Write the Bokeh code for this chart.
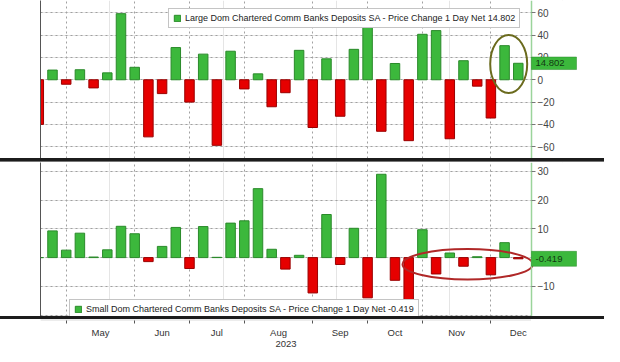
import numpy as np
import pandas as pd
from bokeh.plotting import figure
from bokeh.models import (ColumnDataSource, Range1d, LinearAxis, FixedTicker, Grid,
                          Legend, LegendItem, Label, Div, BoxAnnotation)
from bokeh.layouts import column
from bokeh.core.properties import value
from bokeh.embed import file_html
from bokeh.resources import INLINE

# ---------------- data ----------------
week_dates = ["2023-04-19", "2023-04-26",
              "2023-05-03", "2023-05-10", "2023-05-17", "2023-05-24", "2023-05-31",
              "2023-06-07", "2023-06-14", "2023-06-21", "2023-06-28",
              "2023-07-05", "2023-07-12", "2023-07-19", "2023-07-26",
              "2023-08-02", "2023-08-09", "2023-08-16", "2023-08-23", "2023-08-30",
              "2023-09-06", "2023-09-13", "2023-09-20", "2023-09-27",
              "2023-10-04", "2023-10-11", "2023-10-18", "2023-10-25",
              "2023-11-01", "2023-11-08", "2023-11-15", "2023-11-22", "2023-11-29",
              "2023-12-06", "2023-12-13", "2023-12-20"]

large_change = [-40, 8.7, -4, 9, -7.3, 6.2, 59.3,
                11.2, -51.2, -12.4, 28.9,
                -20, 23, -58.8, 25.6,
                -8.2, 5.3, -24.2, -11.6, 26.4,
                -42.8, 18.8, -32.7, 27.3,
                47.5, -46.2, 14.6, -54.6,
                40.8, 44.1, -52.9, 17.1, -5.7,
                -34.3, 30.6, 14.802]

small_change = [0, 9.3, 2.6, 8.5, 0.2, 2.7, 10.9,
                8.3, -1.4, 3.9, 10.5,
                -3.8, 10.8, 0.1, 12.0,
                12.8, 24.0, 2.9, -4.0, 0.8,
                -12.3, 15.0, -2.4, 10.2,
                -14.0, 29.0, -7.9, -16.2,
                9.7, -5.7, 1.6, -3.0, 0.3,
                -6.0, 5.2, -0.419]

large_last_label = "14.802"
small_last_label = "-0.419"
large_name = "Large Dom Chartered Comm Banks Deposits SA - Price Change 1 Day Net 14.802"
small_name = "Small Dom Chartered Comm Banks Deposits SA - Price Change 1 Day Net -0.419"
month_numbers = [5, 6, 7, 8, 9, 10, 11, 12]
month_names = ["May", "Jun", "Jul", "Aug", "Sep", "Oct", "Nov", "Dec"]
year_label = "2023"
top_ticks = [-60, -40, -20, 0, 20, 40, 60]
bottom_ticks = [-10, 0, 10, 20, 30]
bottom_grid = [-20, -10, 0, 10, 20, 30]

# ---------------- styling ----------------
GREEN = "#3cb83c"
GREEN_LINE = "#2a8a2a"
RED = "#e60000"
RED_LINE = "#9a0000"
GRID_COLOR = "#a0a0a0"
FONT = "Liberation Sans, Arial, sans-serif"
DAY = 86400000.0
PX_PER_DAY = 491.0 / 250.88     # data area: 491 px wide
DATA_W = 491
FRAME_W = 539
BORDER_L = 40

dates = pd.to_datetime(week_dates)
xs = dates.values.astype("datetime64[ms]").astype("int64").astype(float)

month_start_x, month_mid_x = [], []
for m in month_numbers:
    sel = dates[dates.month == m]
    first = sel[0]
    n_weeks = len(pd.date_range(first.replace(day=1), first + pd.offsets.MonthEnd(0), freq="W-WED"))
    sx = float(np.datetime64(first, "ms").astype("int64"))
    month_start_x.append(sx)
    month_mid_x.append(sx + n_weeks * 3.5 * DAY)

x_start = xs[0] + 0.87 * DAY
axis_x = xs[-1] + 6.75 * DAY                      # where the value axis sits
span_days = (axis_x - x_start) / DAY
x_end = axis_x + (FRAME_W - DATA_W) * span_days / DATA_W * DAY   # room for tick labels / tags
x_range = Range1d(x_start, x_end)
bar_w = 4.85 * DAY
tag_w = 23.0 * DAY


def make_panel(vals, y0, y1, fheight, ticks, grid_ticks, name, last_label, legend_loc, tag_half):
    vals = np.asarray(vals, dtype=float)
    src = ColumnDataSource(dict(
        x=xs, v=vals,
        fill=np.where(vals >= 0, GREEN, RED),
        line=np.where(vals >= 0, GREEN_LINE, RED_LINE),
    ))
    p = figure(frame_width=FRAME_W, frame_height=fheight, x_range=x_range, y_range=Range1d(y0, y1),
               output_backend="svg", toolbar_location=None,
               x_axis_location=None, y_axis_location=None,
               min_border_left=BORDER_L, min_border_right=0,
               min_border_top=0, min_border_bottom=0)
    p.outline_line_color = None
    p.background_fill_color = "white"

    # left border line
    lax = LinearAxis(ticker=FixedTicker(ticks=[]))
    lax.axis_line_color = "#555555"
    lax.major_tick_line_color = None
    lax.minor_tick_line_color = None
    p.add_layout(lax, "left")

    # grid
    p.add_layout(Grid(dimension=1, ticker=FixedTicker(ticks=grid_ticks),
                      grid_line_color=GRID_COLOR, grid_line_dash="2 3", grid_line_width=1))
    p.add_layout(Grid(dimension=0, ticker=FixedTicker(ticks=month_start_x),
                      grid_line_color=GRID_COLOR, grid_line_dash="2 3", grid_line_width=1))
    # blank area right of the value axis (hides grid there)
    p.add_layout(BoxAnnotation(left=axis_x, fill_color="white", fill_alpha=1.0,
                               line_color=None, level="underlay"))

    # value axis placed at the right end of the data area
    yaxis = LinearAxis(ticker=FixedTicker(ticks=ticks), fixed_location=axis_x)
    yaxis.axis_line_color = "#9bd49b"
    yaxis.axis_line_width = 1.5
    yaxis.major_tick_out = 4
    yaxis.major_tick_in = 0
    yaxis.major_tick_line_color = "#777777"
    yaxis.minor_tick_line_color = None
    yaxis.major_label_text_font = FONT
    yaxis.major_label_text_font_size = "10px"
    yaxis.major_label_text_color = "#444444"
    yaxis.major_label_standoff = 2
    p.add_layout(yaxis, "right")

    r = p.vbar(x="x", top="v", bottom=0, width=bar_w, source=src,
               fill_color="fill", line_color="line", line_width=1)

    pos_idx = int(np.argmax(vals > 0))
    legend = Legend(items=[LegendItem(label=value(name), renderers=[r], index=pos_idx)],
                    location=legend_loc)
    legend.label_text_font = FONT
    legend.label_text_font_size = "9px"
    legend.label_text_color = "#222222"
    legend.label_height = 10
    legend.glyph_width = 8
    legend.glyph_height = 8
    legend.label_standoff = 4
    legend.padding = 4
    legend.margin = 0
    legend.spacing = 0
    legend.border_line_color = "#8a8a8a"
    legend.border_line_width = 1
    legend.background_fill_alpha = 1.0
    p.add_layout(legend)

    # last value tag beside the value axis
    last = vals[-1]
    p.quad(left=[axis_x], right=[axis_x + tag_w], bottom=[last - tag_half], top=[last + tag_half],
           fill_color=GREEN, line_color=GREEN_LINE, line_width=0.5, level="overlay")
    tag = Label(x=axis_x, y=last, x_offset=4, text=last_label,
                text_font=FONT, text_font_size="9.5px", text_color="#123812",
                text_baseline="middle", text_align="left", level="overlay")
    p.add_layout(tag)
    return p, vals


p_top, lv = make_panel(large_change, -70.6, 71.1, 158, top_ticks, top_ticks,
                       large_name, large_last_label, (128, 130), 5.6)
# highlight ellipse around the last two weeks (top)
p_top.ellipse(x=[xs[-2] + 0.3 * 7 * DAY], y=[np.mean(lv[-2:]) - 8.5],
              width=[2.7 * 7 * DAY], height=[52], fill_color=None,
              line_color="#6b6b1e", line_width=2)

p_bot, sv = make_panel(small_change, -20.5, 33.1, 154, bottom_ticks, bottom_grid,
                       small_name, small_last_label, (29, -3), 2.6)
# highlight ellipse around the last weeks (bottom)
p_bot.ellipse(x=[xs[-5] + 0.3 * 7 * DAY], y=[-2.3],
              width=[9.5 * 7 * DAY], height=[10.6], fill_color=None,
              line_color="#b02828", line_width=2)

# bottom axis strip (months + year), same scale as the data area
p_ax = figure(frame_width=DATA_W, frame_height=1, x_range=Range1d(x_start, axis_x),
              y_range=Range1d(0, 1),
              output_backend="svg", toolbar_location=None,
              x_axis_location=None, y_axis_location=None,
              min_border_left=BORDER_L, min_border_right=0,
              min_border_top=0, min_border_bottom=0)
p_ax.outline_line_color = None
xaxis = LinearAxis(ticker=FixedTicker(ticks=month_mid_x, minor_ticks=month_start_x),
                   major_label_overrides={mx: nm for mx, nm in zip(month_mid_x, month_names)},
                   axis_label=year_label)
xaxis.axis_line_color = None
xaxis.major_tick_line_color = None
xaxis.major_tick_out = 0
xaxis.major_tick_in = 0
xaxis.minor_tick_line_color = "#555555"
xaxis.minor_tick_out = 3
xaxis.minor_tick_in = 0
xaxis.major_label_standoff = 3
xaxis.major_label_text_font = FONT
xaxis.major_label_text_font_size = "9.5px"
xaxis.major_label_text_color = "#333333"
xaxis.axis_label_standoff = 0
xaxis.axis_label_text_font = FONT
xaxis.axis_label_text_font_size = "9.5px"
xaxis.axis_label_text_font_style = "normal"
xaxis.axis_label_text_color = "#333333"
p_ax.add_layout(xaxis, "below")

sep1 = Div(text="", width=604, height=4, margin=0,
           styles={"background-color": "#1c1c1c", "border-bottom": "1px solid #777"})
sep2 = Div(text="", width=604, height=3, margin=0,
           styles={"background-color": "#1c1c1c"})

layout = column(p_top, sep1, p_bot, sep2, p_ax, spacing=0)

open("out.html", "w").write(file_html(layout, INLINE))
